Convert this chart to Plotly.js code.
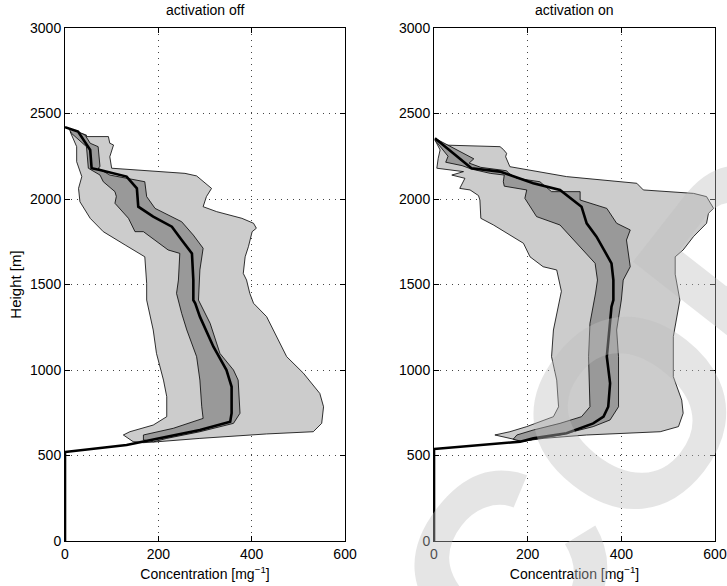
<!DOCTYPE html>
<html>
<head>
<meta charset="utf-8">
<script src="https://cdn.plot.ly/plotly-3.0.1.min.js"></script>
<style>html,body{margin:0;padding:0;background:#fff;}#chart{width:727px;height:586px;}</style>
</head>
<body>
<div id="chart"></div>
<script>
// ---------- activation off ----------
const offMedX = [0, 28, 54, 57, 75, 132, 154, 157, 189, 229, 250, 272, 275, 275, 279, 289, 318, 346, 357, 357, 354, 289, 218, 182, 132, 0, 0];
const offMedY = [2420, 2394, 2287, 2180, 2170, 2131, 2062, 1955, 1897, 1838, 1760, 1682, 1526, 1409, 1390, 1312, 1136, 1000, 902, 747, 698, 649, 610, 591, 561, 520, 0];

const offInLoX = [8, 14, 46, 50, 75, 82, 107, 110, 107, 136, 150, 168, 221, 246, 243, 239, 250, 261, 282, 289, 293, 296, 232, 168, 168, 190];
const offInLoY = [2412, 2384, 2306, 2180, 2140, 2101, 2043, 2015, 1975, 1887, 1809, 1809, 1702, 1682, 1526, 1448, 1331, 1234, 1078, 941, 785, 717, 659, 620, 591, 580];
const offInHiX = [21, 43, 54, 71, 75, 71, 96, 171, 175, 193, 214, 250, 275, 296, 289, 289, 286, 311, 332, 361, 371, 375, 361, 289, 218, 190];
const offInHiY = [2403, 2374, 2326, 2306, 2189, 2180, 2140, 2101, 2014, 1945, 1916, 1867, 1789, 1712, 1585, 1526, 1409, 1273, 1097, 1000, 941, 747, 688, 639, 600, 580];

const offOutLoX = [11, 14, 25, 25, 36, 29, 32, 54, 82, 129, 171, 175, 175, 189, 196, 211, 218, 218, 189, 139, 125, 146, 168];
const offOutLoY = [2394, 2374, 2306, 2218, 2131, 2062, 1984, 1887, 1809, 1731, 1662, 1507, 1409, 1234, 1097, 941, 844, 727, 678, 639, 620, 581, 575];
const offOutHiX = [17, 46, 46, 93, 96, 104, 96, 100, 257, 282, 314, 303, 296, 325, 379, 404, 410, 401, 393, 386, 382, 389, 396, 404, 432, 454, 475, 511, 546, 554, 550, 532, 432, 289, 196, 168];
const offOutHiY = [2400, 2374, 2365, 2365, 2326, 2316, 2247, 2180, 2150, 2135, 2062, 2014, 1955, 1926, 1887, 1858, 1829, 1809, 1721, 1662, 1565, 1526, 1448, 1390, 1312, 1195, 1078, 981, 863, 785, 688, 639, 626, 600, 580, 575];

// ---------- activation on ----------
const onMedX = [2, 80, 141, 212, 269, 315, 326, 347, 379, 383, 383, 379, 369, 376, 372, 362, 340, 283, 212, 184, 0, 0];
const onMedY = [2355, 2180, 2160, 2092, 2053, 1955, 1858, 1780, 1624, 1526, 1409, 1370, 1078, 922, 785, 727, 688, 630, 600, 581, 538, 0];

const onInLoX = [2, 30, 25, 60, 80, 120, 150, 148, 150, 198, 194, 219, 269, 298, 344, 349, 345, 333, 330, 333, 315, 269, 212, 177, 169, 190];
const onInLoY = [2345, 2250, 2215, 2195, 2175, 2150, 2140, 2101, 2075, 2053, 2004, 1897, 1848, 1760, 1624, 1526, 1450, 1273, 1078, 785, 727, 688, 649, 620, 595, 581];
const onInHiX = [2, 34, 70, 85, 75, 100, 155, 160, 177, 226, 251, 312, 312, 369, 390, 419, 411, 419, 404, 400, 390, 394, 394, 376, 340, 269, 205, 190];
const onInHiY = [2355, 2306, 2257, 2235, 2210, 2185, 2165, 2150, 2121, 2101, 2043, 2043, 1994, 1945, 1858, 1819, 1760, 1604, 1526, 1409, 1234, 1078, 785, 708, 669, 620, 591, 581];

const onOutLoX = [2, 13, 9, 6, 63, 38, 66, 55, 77, 95, 98, 100, 127, 191, 205, 233, 262, 272, 255, 251, 262, 266, 255, 198, 162, 130, 177, 184];
const onOutLoY = [2345, 2287, 2238, 2180, 2160, 2140, 2121, 2062, 2053, 2020, 1994, 1887, 1848, 1741, 1662, 1604, 1585, 1460, 1234, 1078, 941, 785, 727, 669, 639, 620, 591, 581];
const onOutHiX = [13, 141, 148, 155, 153, 162, 283, 433, 447, 554, 582, 597, 586, 582, 554, 532, 515, 515, 518, 525, 511, 511, 529, 532, 522, 483, 326, 233, 184];
const onOutHiY = [2316, 2306, 2290, 2267, 2247, 2189, 2131, 2092, 2053, 2033, 2014, 1945, 1916, 1858, 1780, 1702, 1662, 1560, 1526, 1409, 1195, 961, 824, 747, 669, 639, 620, 600, 581];

const xTicks = [0, 200, 400, 600];
const yTicks = [0, 500, 1000, 1500, 2000, 2500, 3000];
const panelTitles = ['activation off', 'activation on'];

function band(loX, loY, hiX, hiY, fill, xa, ya) {
  return {
    x: loX.concat(hiX.slice().reverse()),
    y: loY.concat(hiY.slice().reverse()),
    type: 'scatter', mode: 'lines', fill: 'toself', fillcolor: fill,
    line: {color: '#000', width: 0.8}, xaxis: xa, yaxis: ya,
    hoverinfo: 'skip', showlegend: false
  };
}
function med(x, y, xa, ya) {
  return {x: x, y: y, type: 'scatter', mode: 'lines', line: {color: '#000', width: 2.6},
          xaxis: xa, yaxis: ya, showlegend: false};
}

const data = [
  band(offOutLoX, offOutLoY, offOutHiX, offOutHiY, '#cccccc', 'x', 'y'),
  band(offInLoX, offInLoY, offInHiX, offInHiY, '#999999', 'x', 'y'),
  med(offMedX, offMedY, 'x', 'y'),
  band(onOutLoX, onOutLoY, onOutHiX, onOutHiY, '#cccccc', 'x2', 'y2'),
  band(onInLoX, onInLoY, onInHiX, onInHiY, '#999999', 'x2', 'y2'),
  med(onMedX, onMedY, 'x2', 'y2')
];

const font = {family: 'Liberation Sans, Arial, sans-serif', size: 14, color: '#000'};
function xax(dom, anchor) {
  return {domain: dom, anchor: anchor, range: [0, 600], tickvals: xTicks, ticktext: xTicks.map(String),
    showline: true, linecolor: '#000', linewidth: 1, mirror: 'ticks', ticks: 'inside', ticklen: 5,
    tickcolor: '#000', showgrid: true, gridcolor: '#444', griddash: '1px,5px', gridwidth: 1,
    zeroline: false, tickfont: font,
    title: {text: 'Concentration [mg<sup>−1</sup>]', font: font, standoff: 8}};
}
function yax(anchor, title) {
  return {domain: [0, 1], anchor: anchor, range: [0, 3000], tickvals: yTicks, ticktext: yTicks.map(String),
    showline: true, linecolor: '#000', linewidth: 1, mirror: 'ticks', ticks: 'inside', ticklen: 5,
    tickcolor: '#000', showgrid: true, gridcolor: '#444', griddash: '1px,5px', gridwidth: 1,
    zeroline: false, tickfont: font,
    title: title ? {text: title, font: {family: font.family, size: 15, color: '#000'}, standoff: 4} : undefined};
}

const layout = {
  width: 727, height: 586,
  margin: {l: 65, r: 12, t: 28, b: 45},
  paper_bgcolor: '#fff', plot_bgcolor: '#fff',
  showlegend: false,
  xaxis: xax([0, 0.4308], 'y'),
  yaxis: yax('x', 'Height [m]'),
  xaxis2: xax([0.5677, 1], 'y2'),
  yaxis2: yax('x2', null),
  annotations: [
    {text: panelTitles[0], xref: 'paper', yref: 'paper', x: 0.2154, y: 1, xanchor: 'center', yanchor: 'middle', yshift: 18, showarrow: false, font: font},
    {text: panelTitles[1], xref: 'paper', yref: 'paper', x: 0.7838, y: 1, xanchor: 'center', yanchor: 'middle', yshift: 18, showarrow: false, font: font},
    {text: '<b>COPY</b>', xref: 'paper', yref: 'paper', x: 0.945, y: 0.375, xanchor: 'center', yanchor: 'middle',
     showarrow: false, textangle: -52,
     font: {family: 'Liberation Sans, Arial, sans-serif', size: 265, color: 'rgba(190,190,190,0.4)'}}
  ]
};

Plotly.newPlot('chart', data, layout, {staticPlot: true, displayModeBar: false});
</script>
</body>
</html>
